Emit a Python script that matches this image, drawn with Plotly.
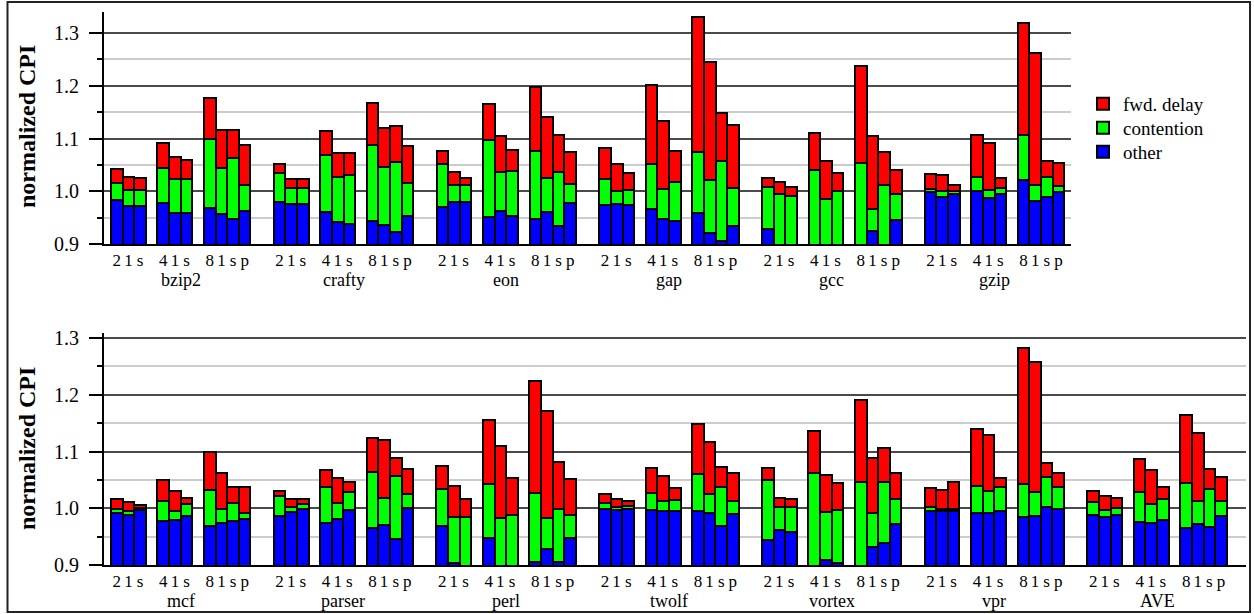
import plotly.graph_objects as go

W, H = 1254, 614

top_benchmarks = ["bzip2", "crafty", "eon", "gap", "gcc", "gzip"]
bottom_benchmarks = ["mcf", "parser", "perl", "twolf", "vortex", "vpr", "AVE"]
bar_labels = ["2", "1", "s", "4", "1", "s", "8", "1", "s", "p"]
y_ticks = [0.9, 1.0, 1.1, 1.2, 1.3]

# ---- top panel (10 bars per benchmark) ----
top_other = [
    0.983, 0.973, 0.972, 0.978, 0.959, 0.958, 0.969, 0.956, 0.947, 0.962,  # bzip2
    0.980, 0.975, 0.975, 0.960, 0.941, 0.938, 0.944, 0.936, 0.922, 0.954,  # crafty
    0.970, 0.980, 0.980, 0.951, 0.963, 0.954, 0.947, 0.960, 0.934, 0.977,  # eon
    0.974, 0.975, 0.974, 0.966, 0.947, 0.944, 0.958, 0.920, 0.906, 0.934,  # gap
    0.929, 0.870, 0.870, 0.870, 0.870, 0.870, 0.870, 0.924, 0.870, 0.945,  # gcc
    0.998, 0.990, 0.994, 1.001, 0.988, 0.994, 1.022, 0.982, 0.990, 0.998,  # gzip
]
top_contention = [
    0.032, 0.030, 0.031, 0.066, 0.064, 0.065, 0.130, 0.089, 0.116, 0.049,
    0.054, 0.032, 0.032, 0.108, 0.087, 0.092, 0.144, 0.110, 0.134, 0.061,
    0.081, 0.031, 0.031, 0.146, 0.074, 0.085, 0.130, 0.065, 0.103, 0.037,
    0.050, 0.025, 0.028, 0.085, 0.057, 0.074, 0.117, 0.102, 0.151, 0.072,
    0.079, 0.124, 0.121, 0.171, 0.115, 0.130, 0.184, 0.043, 0.141, 0.049,
    0.007, 0.010, 0.006, 0.026, 0.014, 0.013, 0.085, 0.030, 0.038, 0.012,
]
top_fwd = [
    0.028, 0.024, 0.023, 0.047, 0.042, 0.037, 0.077, 0.072, 0.054, 0.077,
    0.017, 0.016, 0.016, 0.046, 0.044, 0.042, 0.079, 0.074, 0.068, 0.070,
    0.025, 0.025, 0.015, 0.068, 0.067, 0.039, 0.121, 0.115, 0.069, 0.060,
    0.058, 0.052, 0.032, 0.151, 0.129, 0.059, 0.256, 0.224, 0.092, 0.119,
    0.018, 0.023, 0.017, 0.069, 0.073, 0.035, 0.183, 0.137, 0.064, 0.047,
    0.028, 0.031, 0.011, 0.079, 0.090, 0.018, 0.213, 0.251, 0.029, 0.044,
]

# ---- bottom panel ----
bottom_other = [
    0.991, 0.989, 0.997, 0.978, 0.979, 0.987, 0.969, 0.974, 0.977, 0.981,  # mcf
    0.986, 0.993, 0.998, 0.974, 0.981, 0.997, 0.965, 0.970, 0.945, 1.000,  # parser
    0.968, 0.904, 0.870, 0.947, 0.870, 0.870, 0.905, 0.928, 0.905, 0.948,  # perl
    0.999, 0.997, 0.998, 0.997, 0.995, 0.996, 0.995, 0.992, 0.969, 0.990,  # twolf
    0.944, 0.961, 0.959, 0.870, 0.909, 0.904, 0.870, 0.932, 0.939, 0.972,  # vortex
    0.995, 0.995, 0.996, 0.992, 0.991, 0.996, 0.985, 0.987, 1.002, 0.999,  # vpr
    0.988, 0.985, 0.988, 0.976, 0.974, 0.979, 0.965, 0.973, 0.967, 0.987,  # AVE
]
bottom_contention = [
    0.008, 0.006, 0.004, 0.035, 0.017, 0.020, 0.063, 0.024, 0.033, 0.010,
    0.035, 0.009, 0.009, 0.063, 0.028, 0.031, 0.099, 0.048, 0.112, 0.025,
    0.066, 0.081, 0.115, 0.096, 0.113, 0.118, 0.122, 0.054, 0.093, 0.041,
    0.010, 0.005, 0.006, 0.030, 0.018, 0.019, 0.066, 0.034, 0.068, 0.023,
    0.106, 0.041, 0.043, 0.192, 0.085, 0.093, 0.176, 0.060, 0.108, 0.045,
    0.008, 0.004, 0.003, 0.047, 0.040, 0.042, 0.057, 0.042, 0.054, 0.039,
    0.023, 0.012, 0.013, 0.053, 0.033, 0.037, 0.080, 0.039, 0.067, 0.025,
]
bottom_fwd = [
    0.018, 0.016, 0.004, 0.036, 0.035, 0.011, 0.068, 0.065, 0.027, 0.046,
    0.009, 0.014, 0.009, 0.031, 0.044, 0.018, 0.060, 0.102, 0.031, 0.045,
    0.041, 0.055, 0.031, 0.113, 0.126, 0.065, 0.197, 0.190, 0.083, 0.063,
    0.017, 0.015, 0.009, 0.044, 0.044, 0.021, 0.087, 0.090, 0.036, 0.049,
    0.021, 0.017, 0.014, 0.074, 0.064, 0.048, 0.145, 0.096, 0.059, 0.045,
    0.032, 0.034, 0.047, 0.100, 0.099, 0.016, 0.241, 0.229, 0.024, 0.024,
    0.020, 0.024, 0.017, 0.058, 0.061, 0.021, 0.120, 0.121, 0.035, 0.043,
]

# ---- layout constants ----
SLOT_OFFSETS = [0, 1, 2, 4, 5, 6, 8, 9, 10, 11]
STRIDE = 14
FONT = "Liberation Serif"
COLORS = {"other": "#0000ff", "contention": "#00ff00", "fwd. delay": "#ff0000"}
LEGEND_OF = {"fwd. delay": "legend", "contention": "legend2", "other": "legend3"}
LEGEND_Y = {"legend": 104, "legend2": 128, "legend3": 152}


def positions(n):
    return [b * STRIDE + o + 0.5 for b in range(n) for o in SLOT_OFFSETS]


fig = go.Figure()

panels = [
    ("x", "y", top_benchmarks, top_other, top_contention, top_fwd, True),
    ("x2", "y2", bottom_benchmarks, bottom_other, bottom_contention, bottom_fwd, False),
]
for xa, ya, names, oth, con, fwd, show in panels:
    xs = positions(len(names))
    for label, vals in (("other", oth), ("contention", con), ("fwd. delay", fwd)):
        fig.add_trace(go.Bar(
            x=xs, y=vals, name=label, xaxis=xa, yaxis=ya, width=1,
            marker=dict(color=COLORS[label], line=dict(color="black", width=2)),
            showlegend=show, legend=LEGEND_OF[label], hoverinfo="skip",
        ))


def xaxis(domain, rng, n):
    return dict(
        domain=domain, range=rng, tickvals=positions(n), ticktext=bar_labels * n,
        ticks="", showline=True, linecolor="black", linewidth=2, showgrid=False,
        zeroline=False, automargin=False, ticklabelstandoff=0,
        tickfont=dict(family=FONT, size=17, color="black"), fixedrange=True,
    )


def yaxis(domain, rng, anchor):
    return dict(
        domain=domain, range=rng, anchor=anchor, tickvals=y_ticks, tickformat=".1f",
        ticks="outside", ticklen=13, tickwidth=2, tickcolor="black",
        showline=True, linecolor="black", linewidth=2, zeroline=False,
        showgrid=True, gridcolor="#4a4a4a", gridwidth=1.5, automargin=False,
        ticklabelstandoff=6,
        tickfont=dict(family=FONT, size=20, color="black"), fixedrange=True,
        minor=dict(dtick=0.05, tick0=0.9, ticks="outside", ticklen=5, tickwidth=2,
                   tickcolor="black", showgrid=True, gridcolor="#cccccc", gridwidth=1.5),
    )


def legend(yc):
    return dict(x=1083 / W, y=1 - yc / H, xanchor="left", yanchor="middle",
                font=dict(family=FONT, size=19, color="black"),
                bgcolor="rgba(0,0,0,0)", borderwidth=0)


fig.update_layout(
    width=W, height=H, margin=dict(l=0, r=0, t=0, b=0, pad=0),
    paper_bgcolor="white", plot_bgcolor="white",
    barmode="stack", bargap=0,
    font=dict(family=FONT, color="black"),
    xaxis=dict(anchor="y", **xaxis([104 / W, 1070.7 / W], [-0.6, 82.55], len(top_benchmarks))),
    yaxis=yaxis([1 - 244 / H, 1 - 12 / H], [0.9, 1.34], "x"),
    xaxis2=dict(anchor="y2", **xaxis([104 / W, 1246 / W], [-0.6, 97.65], len(bottom_benchmarks))),
    yaxis2=yaxis([1 - 565 / H, 1 - 333 / H], [0.9, 1.309], "x2"),
    legend=legend(LEGEND_Y["legend"]),
    legend2=legend(LEGEND_Y["legend2"]),
    legend3=legend(LEGEND_Y["legend3"]),
    showlegend=True,
)

annotations = []
for names, xref, ypos in ((top_benchmarks, "x", 280), (bottom_benchmarks, "x2", 601)):
    for b, nm in enumerate(names):
        annotations.append(dict(
            x=b * STRIDE + 6, y=1 - ypos / H, xref=xref, yref="paper", text=nm,
            showarrow=False, xanchor="center", yanchor="middle",
            font=dict(family=FONT, size=18, color="black"),
        ))
for yc in (127, 449):
    annotations.append(dict(
        x=27 / W, y=1 - yc / H, xref="paper", yref="paper", text="<b>normalized CPI</b>",
        textangle=-90, showarrow=False, xanchor="center", yanchor="middle",
        font=dict(family=FONT, size=24, color="black"),
    ))
fig.update_layout(annotations=annotations)

fig.add_shape(type="rect", xref="paper", yref="paper",
              x0=7.5 / W, x1=1250 / W, y0=1 - 612 / H, y1=1 - 2 / H,
              line=dict(color="#222222", width=2), fillcolor="rgba(0,0,0,0)")

fig.write_html("out.html", config={"displayModeBar": False},
               post_script="document.body.style.margin='0px';")
